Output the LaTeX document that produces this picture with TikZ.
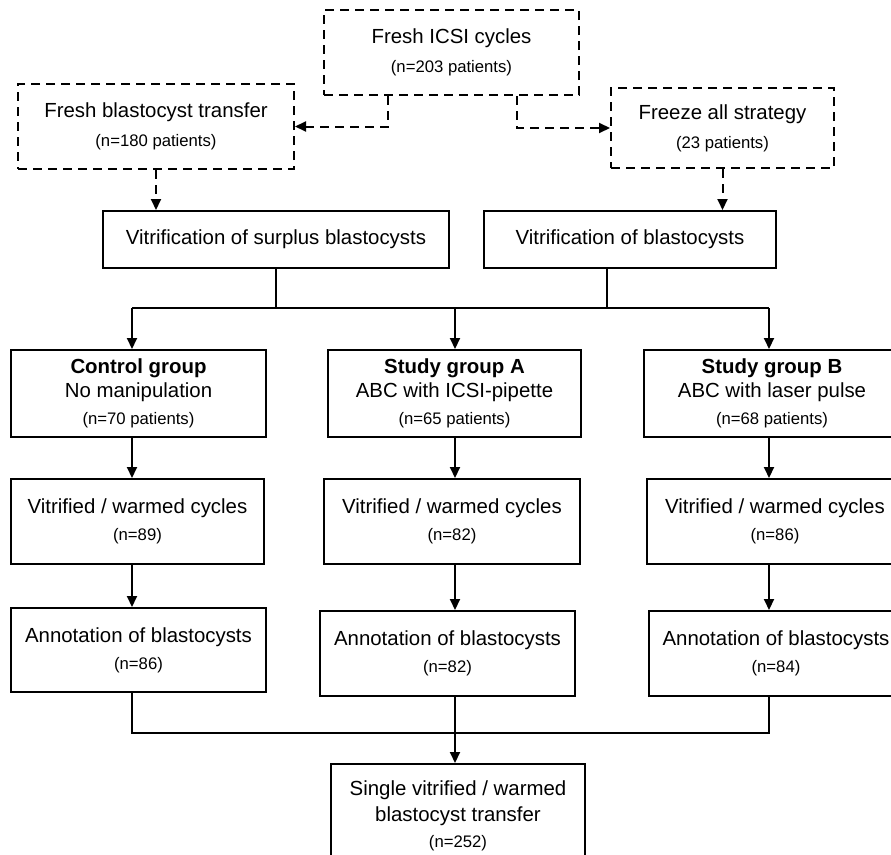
\documentclass[tikz,border=0pt]{standalone}
\usepackage{fontspec}
\setmainfont{Liberation Sans}
\usetikzlibrary{arrows.meta}

\newcommand{\nsz}{\fontsize{16.7}{20}\selectfont}

\tikzset{
  box/.style={draw, line width=2pt, inner sep=0pt, align=center,
    font=\fontsize{20.4}{27}\selectfont},
  dbox/.style={box, dash pattern=on 9pt off 6pt},
  line/.style={line width=2pt},
  arr/.style={line, -{Triangle[length=11pt,width=10pt]}},
  darr/.style={arr, dash pattern=on 9pt off 6pt}
}

\begin{document}
\begin{tikzpicture}[x=1pt,y=-1pt]
      \useasboundingbox (0,0) rectangle (891,854);
      \clip (0,0) rectangle (891,854);
      \node[dbox, minimum width=255pt, minimum height=85pt] (icsi) at (451.5,52.5) {Fresh ICSI cycles\\[2pt]{\nsz (n=203 patients)}};
      \node[dbox, minimum width=276pt, minimum height=85pt] (fresh) at (156,126.5) {Fresh blastocyst transfer\\[2pt]{\nsz (n=180 patients)}};
      \node[dbox, minimum width=223pt, minimum height=80pt] (freeze) at (722.5,128) {Freeze all strategy\\[2pt]{\nsz (23 patients)}};
      \node[box, minimum width=346pt, minimum height=57pt] (vsur) at (276,239.5) {Vitrification of surplus blastocysts};
      \node[box, minimum width=292pt, minimum height=57pt] (vbla) at (630,239.5) {Vitrification of blastocysts};
      \node[box, minimum width=255pt, minimum height=87pt] (ctrl) at (138.5,393.5) {\textbf{Control group}\\[-3pt]No manipulation\\{\nsz (n=70 patients)}};
      \node[box, minimum width=253pt, minimum height=87pt] (grpA) at (454.5,393.5) {\textbf{Study group A}\\[-3pt]ABC with ICSI-pipette\\{\nsz (n=65 patients)}};
      \node[box, minimum width=256pt, minimum height=87pt] (grpB) at (772,393.5) {\textbf{Study group B}\\[-3pt]ABC with laser pulse\\{\nsz (n=68 patients)}};
      \node[box, minimum width=253pt, minimum height=85pt] (vitC) at (137.5,521.5) {Vitrified / warmed cycles\\{\nsz (n=89)}};
      \node[box, minimum width=256pt, minimum height=85pt] (vitA) at (452,521.5) {Vitrified / warmed cycles\\{\nsz (n=82)}};
      \node[box, minimum width=256pt, minimum height=85pt] (vitB) at (775,521.5) {Vitrified / warmed cycles\\{\nsz (n=86)}};
      \node[box, minimum width=255pt, minimum height=84pt] (annC) at (138.5,650) {Annotation of blastocysts\\{\nsz (n=86)}};
      \node[box, minimum width=255pt, minimum height=85pt] (annA) at (447.5,653.5) {Annotation of blastocysts\\{\nsz (n=82)}};
      \node[box, minimum width=254pt, minimum height=85pt] (annB) at (776,653.5) {Annotation of blastocysts\\{\nsz (n=84)}};
      \node[box, minimum width=254pt, minimum height=104pt] (bot) at (458,816) {Single vitrified / warmed\\[-1pt]blastocyst transfer\\[-1pt]{\nsz (n=252)}};
      \coordinate (cC) at (132,0);
      \coordinate (cA) at (455,0);
      \coordinate (cB) at (769,0);
      \coordinate (jn) at (0,308);
      \coordinate (jb) at (0,733);
      \draw[darr] ([xshift=-63.5pt]icsi.south) |- (fresh.east);
      \draw[darr] ([xshift=65.5pt]icsi.south) |- (freeze.west);
      \draw[darr] (fresh.south) -- (fresh.south |- vsur.north);
      \draw[darr] (freeze.south) -- (freeze.south |- vbla.north);
      \draw[line] (vsur.south) -- (vsur.south |- jn);
      \draw[line] ([xshift=-23pt]vbla.south) -- ([xshift=-23pt]vbla.south |- jn);
      \draw[line] (cC |- jn) -- (cB |- jn);
      \draw[arr] (cC |- jn) -- (cC |- ctrl.north);
      \draw[arr] (cA |- jn) -- (cA |- grpA.north);
      \draw[arr] (cB |- jn) -- (cB |- grpB.north);
      \draw[arr] (cC |- ctrl.south) -- (cC |- vitC.north);
      \draw[arr] (cA |- grpA.south) -- (cA |- vitA.north);
      \draw[arr] (cB |- grpB.south) -- (cB |- vitB.north);
      \draw[arr] (cC |- vitC.south) -- (cC |- annC.north);
      \draw[arr] (cA |- vitA.south) -- (cA |- annA.north);
      \draw[arr] (cB |- vitB.south) -- (cB |- annB.north);
      \draw[line] (cC |- annC.south) -- (cC |- jb) -- (cB |- jb) -- (cB |- annB.south);
      \draw[arr] (cA |- annA.south) -- (cA |- bot.north);
    \end{tikzpicture}
\end{document}
